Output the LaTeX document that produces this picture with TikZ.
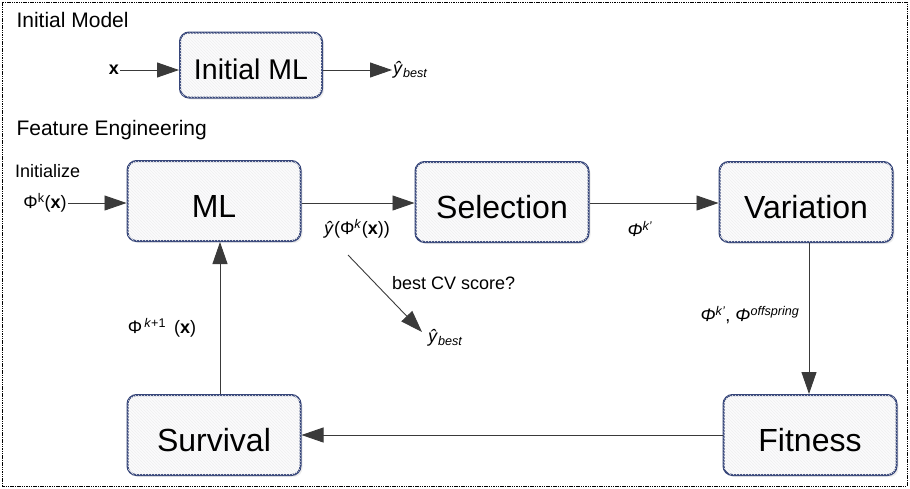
\documentclass[tikz,border=0pt]{standalone}
\usepackage{fontspec}
\setmainfont{Liberation Sans}
\usetikzlibrary{arrows.meta,patterns,shadows}
\definecolor{boxline}{HTML}{37467A}
\definecolor{boxfill}{HTML}{FBFBFC}
\definecolor{conn}{HTML}{3A3A3A}
\begin{document}
\begin{tikzpicture}[x=1pt,y=-1pt,
  box/.style={draw=boxline,line width=2pt,rounded corners=9pt,fill=boxfill,
    drop shadow={opacity=0.15,shadow xshift=2pt,shadow yshift=-2pt},
    postaction={pattern=north west lines,pattern color=gray!12},
    minimum width=173pt,minimum height=80pt,font=\fontsize{32}{36}\selectfont,
    inner sep=0pt,text height=32pt,text depth=0pt},
  title/.style={anchor=west,font=\fontsize{21}{25}\selectfont},
  lbl/.style={font=\fontsize{18}{21}\selectfont,inner sep=1pt},
  conn/.style={draw=conn,line width=0.9pt},
  arr/.style={conn,-{Triangle[length=22pt,width=15pt]}}
]
\useasboundingbox (0,0) rectangle (910,488);
\draw[line width=0.9pt,dash pattern=on 1.5pt off 0.8pt] (2,2) rectangle (907,486);

% Initial model
\node[title] (tInit) at (13,20) {Initial Model};
\node[box,minimum width=142pt,minimum height=65pt,font=\fontsize{28.5}{32}\selectfont,text height=29pt] (iml) at (251,65) {Initial ML};
\node[lbl] (x0) at (114,70) {\textbf{x}};
\node[lbl,anchor=west] (yb0) at (392,70) {\textit{ŷ}\textsubscript{\textit{best}}};
\draw[arr] (x0) -- (iml.west|-x0);
\draw[arr] (iml.east|-yb0) -- (yb0);

% Feature engineering
\node[title] (tFE) at (13,130) {Feature Engineering};
\node[lbl,anchor=west] (tIni) at (14,171) {Initialize};
\node[box] (ml) at (214,201) {ML};
\node[box] (sel) at (502,202) {Selection};
\node[box] (var) at (806,202) {Variation};
\node[box] (sur) at (214,435) {Survival};
\node[box] (fit) at (810,435) {Fitness};

\node[lbl] (phik) at (45,203) {Φ\textsuperscript{k}(\textbf{x})};
\draw[arr] (phik) -- (ml.west|-phik);

\draw[arr] (ml.east|-phik) -- (sel.west|-phik);
\node[lbl] (yphi) at (357,229) {\textit{ŷ}(Φ\textsuperscript{\textit{k}}(\textbf{x}))};

\draw[arr] (sel.east|-phik) -- (var.west|-phik);
\node[lbl] (phikp) at (640,229) {\textit{Φ}\textsuperscript{\textit{k'}}};

\draw[arr] (var.south-|809,0) -- (fit.north-|809,0);
\node[lbl] (phiko) at (750,315) {\textit{Φ}\textsuperscript{\textit{k'}}, \textit{Φ}\textsuperscript{\textit{offspring}}};

\draw[arr] (fit.west|-sur) -- (sur.east);
\draw[arr] (sur.north-|220,0) -- (ml.south-|220,0);
\node[lbl] (phik1) at (162,328) {Φ\textsuperscript{\,\textit{k}+1}\, (\textbf{x})};

\coordinate (dstart) at (348,255);
\node[lbl,anchor=west] (yb1) at (427,338) {\textit{ŷ}\textsubscript{\textit{best}}};
\draw[arr] (dstart) -- (422,332);
\node[lbl,anchor=west] (cv) at (391,283) {best CV score?};
\end{tikzpicture}
\end{document}
